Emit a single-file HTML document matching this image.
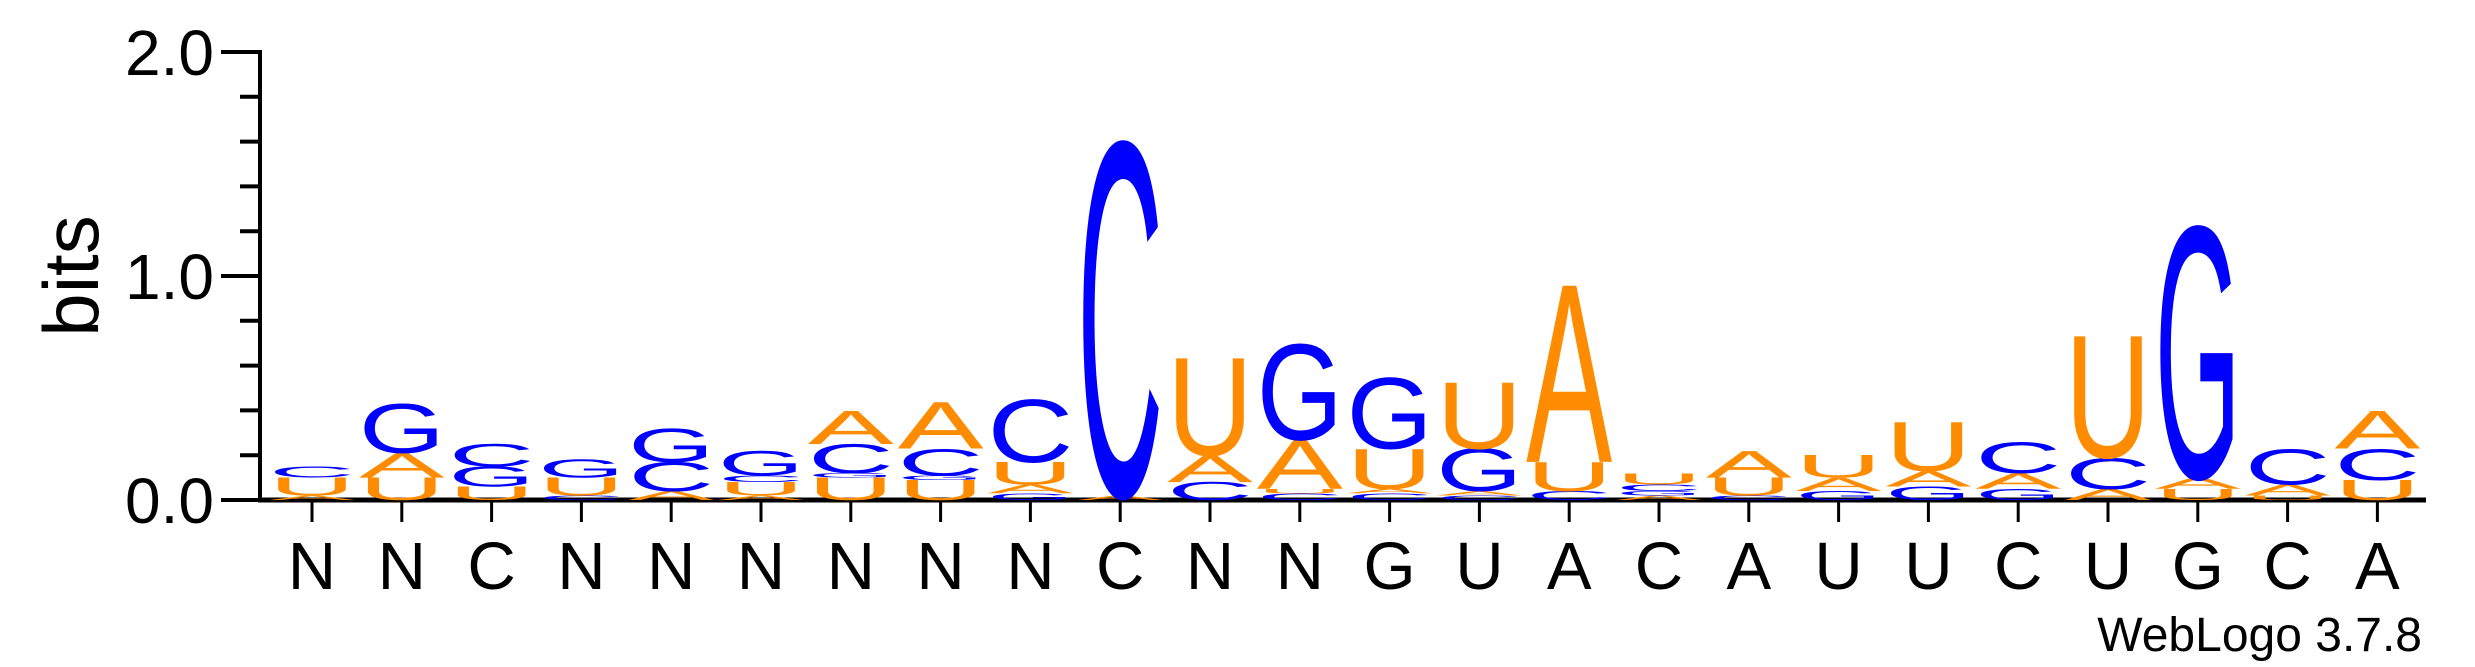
<!DOCTYPE html>
<html><head><meta charset="utf-8"><style>
html,body{margin:0;padding:0;background:#fff;}
svg{display:block;}
text{font-family:"Liberation Sans",Arial,sans-serif;}
</style></head><body>
<svg id="chart" width="2475" height="667" viewBox="0 0 2475 667" xmlns="http://www.w3.org/2000/svg">
<g id="axes"></g>
<g id="stacks"></g>
<text x="0" y="0" font-size="78" text-anchor="middle" transform="translate(98,276) rotate(-90)">bits</text>
<text x="2422" y="651" font-size="48" text-anchor="end">WebLogo 3.7.8</text>
</svg>
<script>
// position labels
const positions = ["N","N","C","N","N","N","N","N","N","C","N","N","G","U","A","C","A","U","U","C","U","G","C","A"];
// stacks bottom->top: [letter, bits]
const stackData = [
 [["A",0.02],["U",0.08],["C",0.05]],
 [["U",0.10],["A",0.11],["G",0.22]],
 [["U",0.06],["G",0.09],["C",0.10]],
 [["C",0.02],["U",0.08],["G",0.08]],
 [["A",0.04],["C",0.13],["G",0.15]],
 [["A",0.02],["U",0.06],["C",0.03],["G",0.11]],
 [["U",0.10],["G",0.02],["C",0.13],["A",0.15]],
 [["U",0.09],["G",0.02],["C",0.12],["A",0.21]],
 [["G",0.03],["A",0.04],["U",0.10],["C",0.28]],
 [["A",0.02],["C",1.59]],
 [["C",0.08],["A",0.12],["U",0.44]],
 [["C",0.03],["U",0.02],["A",0.22],["G",0.43]],
 [["C",0.03],["A",0.02],["U",0.18],["G",0.32]],
 [["C",0.02],["A",0.02],["G",0.19],["U",0.30]],
 [["C",0.04],["U",0.13],["A",0.80]],
 [["A",0.02],["G",0.02],["C",0.03],["U",0.05]],
 [["C",0.02],["U",0.08],["A",0.12]],
 [["G",0.04],["A",0.06],["U",0.10]],
 [["G",0.06],["A",0.07],["U",0.22]],
 [["G",0.05],["A",0.07],["C",0.14]],
 [["A",0.05],["C",0.14],["U",0.55]],
 [["U",0.05],["A",0.05],["G",1.13]],
 [["U",0.02],["A",0.05],["C",0.16]],
 [["U",0.09],["C",0.14],["A",0.17]]
];
const yTickLabels = ["0.0","1.0","2.0"];
const yTickValues = [0,1,2];

const NS="http://www.w3.org/2000/svg";
const x0=312, dx=89.8, yBase=500, pxPerBit=224, axisX=260;
const xPos=i=>x0+i*dx;
const yPos=v=>yBase-v*pxPerBit;
const colors={A:"#FF8C00",U:"#FF8C00",C:"#0000FF",G:"#0000FF"};
function mk(tag,attrs,parent){const e=document.createElementNS(NS,tag);for(const k in attrs)e.setAttribute(k,attrs[k]);parent.appendChild(e);return e;}
const axes=document.getElementById('axes');
let l=mk('line',{x1:axisX,y1:yPos(2)-2,x2:axisX,y2:yBase+2,stroke:'#000','stroke-width':4},axes);


l=mk('line',{x1:axisX-2,y1:yBase,x2:2426,y2:yBase,stroke:'#000','stroke-width':5},axes);


for(let k=0;k<=10;k++){
  const v=k*0.2, major=(k%5===0);
  const t=mk('line',{x1:axisX-(major?39:20),y1:yPos(v),x2:axisX,y2:yPos(v),stroke:'#000','stroke-width':4},axes);
  
  
}
yTickValues.forEach((v,i)=>{
  const t=mk('text',{x:214,y:yPos(v)+23,'font-size':64,'text-anchor':'end'},axes);
  t.textContent=yTickLabels[i];
  
  
});
positions.forEach((p,i)=>{
  const t=mk('line',{x1:xPos(i),y1:yBase,x2:xPos(i),y2:yBase+22,stroke:'#000','stroke-width':3},axes);
  
  
  const lb=mk('text',{x:xPos(i),y:589,'font-size':67,'text-anchor':'middle'},axes);
  lb.textContent=p;
  
  
});
const stacks=document.getElementById('stacks');
stackData.forEach((col,i)=>{
  const g=mk('g',{},stacks);
  
  
  let acc=0;
  col.forEach(([ch,v])=>{
    const yb=yPos(acc); acc+=v;
    const h=v*pxPerBit;
    if(h<0.8) return;
    const sy=h/70;
    const t=mk('text',{x:0,y:0,'font-size':100,'text-anchor':'middle',textLength:86,lengthAdjust:'spacingAndGlyphs',fill:colors[ch],transform:`translate(${xPos(i)},${yb}) scale(1,${sy})`},g);
    t.textContent=ch;
    
    
  });
});
</script>
</body></html>
